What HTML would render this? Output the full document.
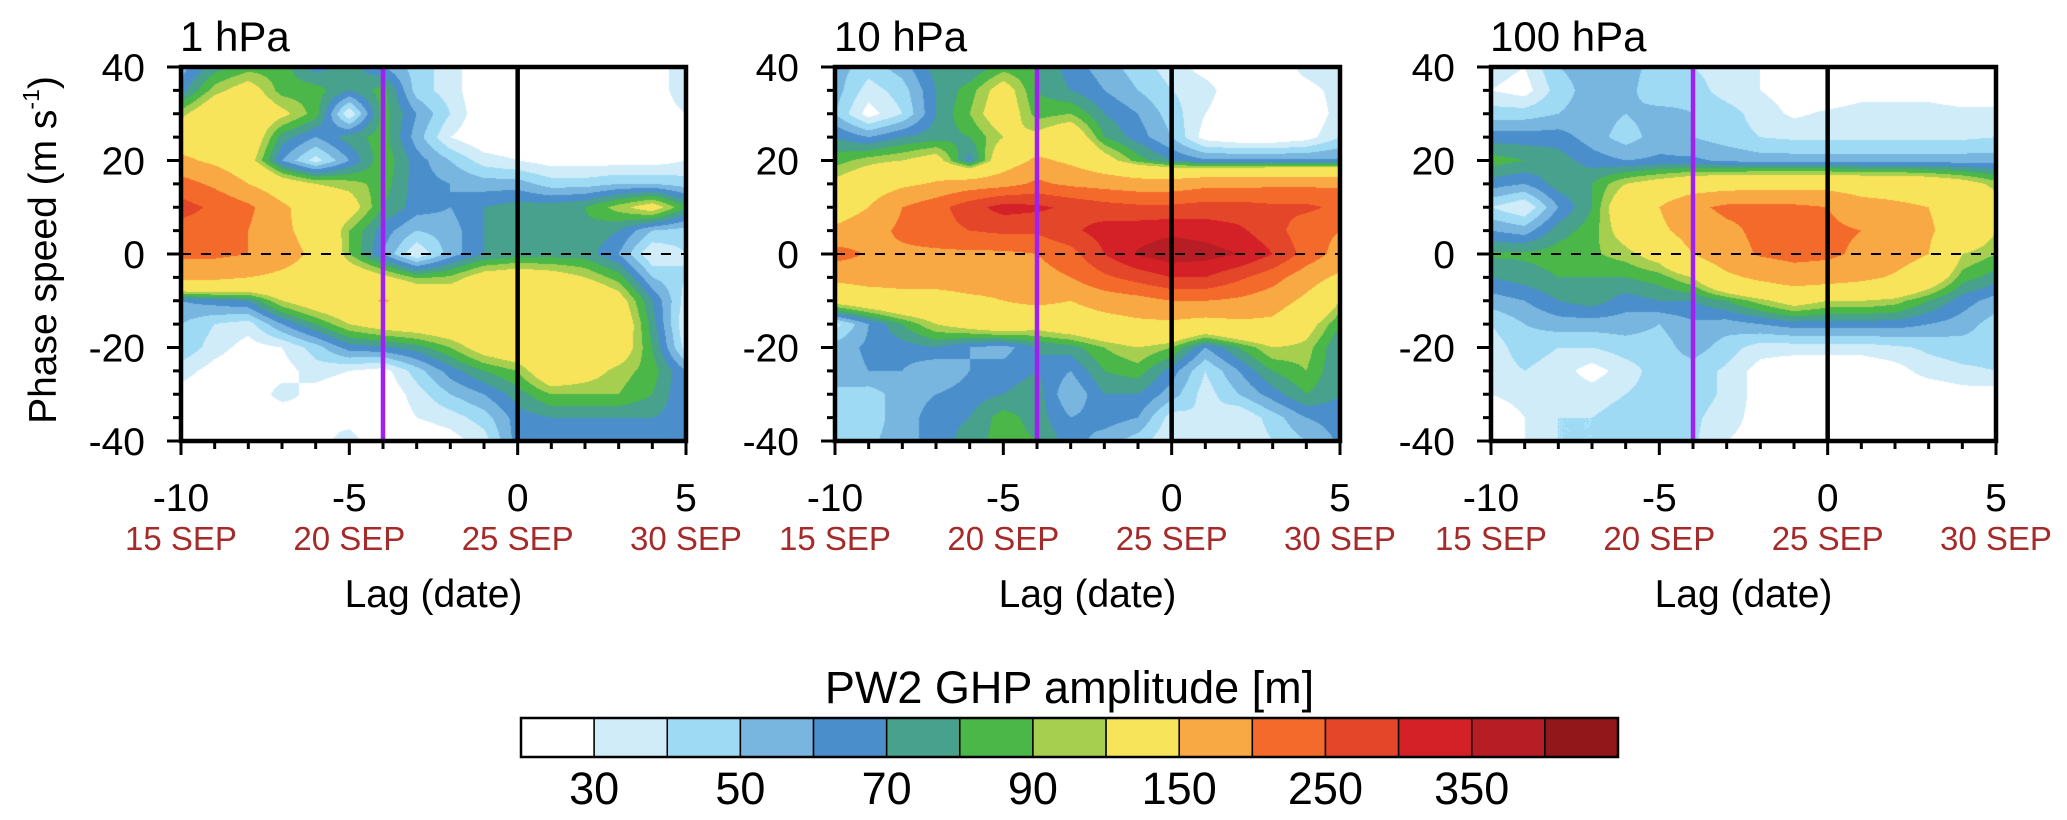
<!DOCTYPE html>
<html><head><meta charset="utf-8">
<style>
html,body{margin:0;padding:0;background:#fff;}
#root{position:relative;width:2067px;height:820px;overflow:hidden;font-family:"Liberation Sans",Arial,sans-serif;}
canvas{position:absolute;}
svg{position:absolute;left:0;top:0;}
</style></head>
<body>
<div id="root">
<canvas id="c1"></canvas>
<canvas id="c2"></canvas>
<canvas id="c3"></canvas>
<svg id="ov" width="2067" height="820"></svg>
</div>
<script>
// ---- data ----
const lags = [-10,-9,-8,-7,-6,-5,-4,-3,-2,-1,0,1,2,3,4,5];
const speeds = [40,35,30,25,20,15,10,5,0,-5,-10,-15,-20,-25,-30,-35,-40];
const levels = [30,40,50,60,70,80,90,100,150,200,250,300,350,400];
const levelLabels = ["30","50","70","90","150","250","350"];
const panelTitles = ["1 hPa","10 hPa","100 hPa"];
const xTicks = [-10,-5,0,5];
const dateLabels = ["15 SEP","20 SEP","25 SEP","30 SEP"];
const yTicks = [40,20,0,-20,-40];
const eventLag = -4;
const centralLag = 0;
const amp1 = [
[55,75,85,85,65,75,60,45,35,20,20,20,20,20,25,35],
[65,95,110,85,85,70,85,45,35,20,20,20,20,20,25,35],
[95,120,120,105,85,30,85,60,40,20,20,20,20,20,25,30],
[120,130,120,75,60,75,85,55,30,20,20,20,20,20,20,30],
[160,140,110,60,35,60,88,65,50,35,30,25,25,25,25,30],
[220,190,150,115,100,95,85,65,60,55,55,45,45,50,50,45],
[270,240,210,160,120,110,80,65,60,70,75,75,80,95,110,80],
[230,220,200,160,130,90,65,50,55,70,75,78,78,70,50,45],
[210,210,200,170,140,90,60,30,55,70,75,75,75,60,30,40],
[160,160,150,140,130,120,105,88,92,110,115,110,100,85,50,40],
[60,65,70,100,115,125,155,130,120,125,130,130,130,110,70,35],
[50,40,35,60,80,100,110,115,120,125,130,130,130,120,75,30],
[48,35,25,30,45,65,68,75,90,110,120,130,130,115,80,35],
[35,25,20,25,35,30,25,45,65,80,90,120,110,95,85,60],
[25,20,20,35,25,20,20,35,50,60,75,90,90,90,80,60],
[20,20,20,20,30,25,20,30,35,45,65,70,70,70,70,65],
[20,20,20,20,25,35,20,20,25,35,65,65,60,60,60,60]];
const amp2 = [
[55,45,55,75,70,85,80,65,55,45,35,25,20,20,35,40],
[55,35,45,70,85,110,80,70,60,50,40,35,20,20,25,35],
[50,25,40,70,90,115,85,90,70,60,45,30,20,20,20,35],
[70,60,70,75,80,100,105,120,80,65,50,25,20,20,25,40],
[85,95,100,110,65,120,160,140,110,85,70,62,62,62,62,62],
[105,120,140,155,170,180,210,190,180,170,170,185,185,190,190,190],
[120,150,200,230,280,320,310,290,270,260,260,270,270,260,260,240],
[160,180,210,230,250,260,260,290,320,330,340,330,310,270,220,200],
[220,195,190,190,190,190,200,230,300,355,380,370,350,300,230,180],
[160,170,170,170,175,170,180,200,240,270,300,300,260,220,170,140],
[110,120,130,130,140,150,160,150,170,180,200,200,190,170,140,100],
[35,60,80,100,110,120,110,120,130,140,140,130,140,140,110,80],
[55,62,65,70,60,55,70,75,90,100,90,60,80,100,95,70],
[55,60,60,50,60,65,70,60,80,85,65,40,60,80,90,70],
[48,45,55,60,65,70,75,50,70,70,55,35,50,65,80,70],
[45,45,55,65,70,85,75,60,65,60,35,40,30,45,60,65],
[45,48,55,65,75,85,80,65,55,45,30,35,30,40,50,62]];
const amp3 = [
[35,30,50,55,55,45,40,35,30,25,20,20,20,20,20,20],
[30,25,45,55,55,40,45,35,30,25,20,25,25,25,22,22],
[45,45,50,55,50,55,50,45,35,28,32,35,35,35,33,33],
[65,65,65,55,45,55,50,45,40,38,38,38,38,38,38,40],
[85,80,75,65,60,62,62,58,55,55,55,55,55,55,55,55],
[65,60,75,80,100,110,120,125,130,130,130,125,125,120,110,95],
[40,30,60,80,120,150,190,210,210,210,200,170,160,150,130,110],
[60,55,75,85,110,140,170,190,210,220,210,200,170,155,130,100],
[82,82,85,88,95,110,150,180,205,215,210,190,170,150,100,90],
[70,75,80,80,80,85,100,140,160,175,170,160,145,120,85,75],
[55,60,70,75,65,70,70,80,95,110,100,100,95,80,65,55],
[40,50,55,55,55,50,58,55,60,65,65,65,65,60,55,45],
[35,45,40,40,45,45,55,45,35,35,35,35,38,42,45,45],
[35,40,35,25,35,45,45,38,25,20,20,20,25,35,38,40],
[30,35,38,35,40,45,45,38,25,20,20,20,20,20,25,25],
[20,30,40,40,45,45,42,35,25,20,20,20,20,20,20,20],
[20,30,40,40,45,45,42,30,25,20,20,20,20,20,20,20]];
const panelData = [amp1, amp2, amp3];
const colors = ["#ffffff","#d0ecf9","#9fdaf5","#78b6e0","#4a8fcb","#48a18c","#4bb748","#a6cf50","#f8e45b","#f8a943","#f46a2a","#e4462a","#d42027","#b61d24","#92171b"];

// ---- layout ----
const panelLeft = [181, 835, 1491];
const PW = 505, PT = 67, PH = 374;
function xScale(p, lag){ return panelLeft[p] + (lag + 10) / 15 * PW; }
function yScale(s){ return PT + (40 - s) / 80 * PH; }

// ---- contour fill ----
function drawPanel(p){
  const cv = document.getElementById('c' + (p + 1));
  cv.width = PW; cv.height = PH;
  cv.style.left = panelLeft[p] + 'px'; cv.style.top = PT + 'px';
  const ctx = cv.getContext('2d');
  const img = ctx.createImageData(PW, PH);
  const d = panelData[p];
  const rgb = colors.map(c => [parseInt(c.substr(1,2),16),parseInt(c.substr(3,2),16),parseInt(c.substr(5,2),16)]);
  for (let py = 0; py < PH; py++){
    const s = 40 - (py + 0.5) / PH * 80;
    const fr = (40 - s) / 5; let r0 = Math.min(Math.floor(fr), speeds.length - 2); const ty = fr - r0;
    for (let px = 0; px < PW; px++){
      const fc = (px + 0.5) / PW * 15; let c0 = Math.min(Math.floor(fc), lags.length - 2); const tx = fc - c0;
      const v = d[r0][c0]*(1-tx)*(1-ty) + d[r0][c0+1]*tx*(1-ty) + d[r0+1][c0]*(1-tx)*ty + d[r0+1][c0+1]*tx*ty;
      let i = 0; while (i < levels.length && v >= levels[i]) i++;
      const k = (py * PW + px) * 4;
      img.data[k] = rgb[i][0]; img.data[k+1] = rgb[i][1]; img.data[k+2] = rgb[i][2]; img.data[k+3] = 255;
    }
  }
  ctx.putImageData(img, 0, 0);
}
[0,1,2].forEach(drawPanel);

// ---- overlay ----
const NS = 'http://www.w3.org/2000/svg';
const ov = document.getElementById('ov');
function mk(tag, attrs, parent){ const e = document.createElementNS(NS, tag); for (const k in attrs) e.setAttribute(k, attrs[k]); (parent || ov).appendChild(e); return e; }

for (let p = 0; p < 3; p++){
  const g = mk('g', {});
  
  
  const x0 = xScale(p, -10), x1 = xScale(p, 5), y0 = yScale(40), y1 = yScale(-40);
  const z = mk('line', {x1:x0, x2:x1, y1:yScale(0), y2:yScale(0), stroke:'#000', 'stroke-width':2, 'stroke-dasharray':'10,10'}, g);
  
  
  const pl = mk('line', {x1:xScale(p, eventLag), x2:xScale(p, eventLag), y1:y0, y2:y1, stroke:'#a020f0', 'stroke-width':4.5}, g);
  
  
  const bl = mk('line', {x1:xScale(p, centralLag), x2:xScale(p, centralLag), y1:y0, y2:y1, stroke:'#000', 'stroke-width':4.5}, g);
  
  
  const fr = mk('rect', {x:x0, y:y0, width:x1 - x0, height:y1 - y0, fill:'none', stroke:'#000', 'stroke-width':4.5}, g);
  
  
  for (let s = -40; s <= 40; s += 5){
    const major = s % 20 === 0;
    const t = mk('line', {x1:x0 - (major ? 14 : 8), x2:x0, y1:yScale(s), y2:yScale(s), stroke:'#000', 'stroke-width':3}, g);
    
    
  }
  yTicks.forEach(s => {
    const t = mk('text', {x:x0 - 36, y:yScale(s) + 14, 'text-anchor':'end', 'font-size':39, fill:'#000'}, g);
    t.textContent = s;
    
    
  });
  for (let l = -10; l <= 5; l++){
    const major = l % 5 === 0;
    const t = mk('line', {x1:xScale(p, l), x2:xScale(p, l), y1:y1, y2:y1 + (major ? 14 : 8), stroke:'#000', 'stroke-width':3}, g);
    
    
  }
  xTicks.forEach((l, i) => {
    const t = mk('text', {x:xScale(p, l), y:511, 'text-anchor':'middle', 'font-size':39, fill:'#000'}, g);
    t.textContent = l;
    
    
    const dl = mk('text', {x:xScale(p, l), y:550, 'text-anchor':'middle', 'font-size':33, fill:'#a52a2a'}, g);
    dl.textContent = dateLabels[i];
    
    
  });
  const xt = mk('text', {x:(x0 + x1) / 2, y:607, 'text-anchor':'middle', 'font-size':39, fill:'#000'}, g);
  xt.textContent = 'Lag (date)';
  
  
  const tt = mk('text', {x:x0 - 1, y:51, 'font-size':42, fill:'#000'}, g);
  tt.textContent = panelTitles[p];
  
  
}
const yt = mk('text', {x:0, y:0, 'text-anchor':'middle', 'font-size':39, fill:'#000', transform:'translate(56,250) rotate(-90)'});


yt.appendChild(document.createTextNode('Phase speed (m s'));
const sup = mk('tspan', {'font-size':23, dy:-17}, yt);
sup.textContent = '-1';
const cl = mk('tspan', {dy:17}, yt);
cl.textContent = ')';

const cbX = 521, cbY = 718, cbW = 1097, cbH = 39;
const bw = cbW / colors.length;
const cbt = mk('text', {x:cbX + cbW / 2, y:703, 'text-anchor':'middle', 'font-size':45, fill:'#000'});
cbt.textContent = 'PW2 GHP amplitude [m]';


colors.forEach((c, i) => {
  const r = mk('rect', {x:cbX + i * bw, y:cbY, width:bw, height:cbH, fill:c, stroke:'#000', 'stroke-width':1.5});
  
  
});
const cbf = mk('rect', {x:cbX, y:cbY, width:cbW, height:cbH, fill:'none', stroke:'#000', 'stroke-width':2.5});


levelLabels.forEach((lab, i) => {
  const t = mk('text', {x:cbX + (2 * i + 1) * bw, y:804, 'text-anchor':'middle', 'font-size':45, fill:'#000'});
  t.textContent = lab;
  
  
});
</script>
</body></html>
